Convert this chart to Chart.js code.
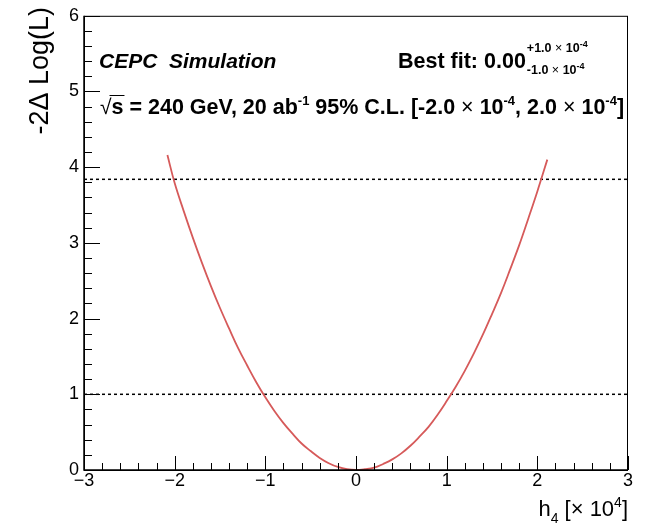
<!DOCTYPE html>
<html lang="en">
<head>
    <meta charset="UTF-8">
    <title>CEPC h4 likelihood scan</title>
    <script src="https://cdn.jsdelivr.net/npm/chart.js"></script>
    <style>
        body { margin: 0; background: #fff; }
        #wrap { width: 650px; height: 525px; }
    </style>
</head>
<body>
    <div id="wrap"><canvas id="scan" width="650" height="525"></canvas></div>

    <script>
        // h4 values [x 10^4] and -2 delta log L
        const h4Values = [-2.08, -2.0, -1.9, -1.8, -1.7, -1.6, -1.5, -1.4, -1.3, -1.2, -1.1,
                          -1.0, -0.9, -0.8, -0.7, -0.6, -0.5, -0.4, -0.3, -0.2, -0.1, 0.0,
                          0.1, 0.2, 0.3, 0.4, 0.5, 0.6, 0.7, 0.8, 0.9, 1.0, 1.1, 1.2, 1.3,
                          1.4, 1.5, 1.6, 1.7, 1.8, 1.9, 2.0, 2.11];
        const nllValues = [4.16, 3.79, 3.42, 3.07, 2.74, 2.43, 2.14, 1.87, 1.61, 1.38, 1.16,
                           0.96, 0.78, 0.62, 0.48, 0.35, 0.25, 0.16, 0.09, 0.04, 0.01, 0.00,
                           0.01, 0.03, 0.08, 0.14, 0.22, 0.32, 0.44, 0.57, 0.73, 0.91, 1.10,
                           1.31, 1.54, 1.79, 2.06, 2.34, 2.65, 2.97, 3.32, 3.68, 4.10];
        const clLevels = [1.0, 3.84];
        const xRange = [-3, 3];
        const yRange = [0, 6];

        const FONT = '"Liberation Sans", Arial, Helvetica, sans-serif';

        const curve = h4Values.map((x, i) => ({ x: x, y: nllValues[i] }));
        const clSets = clLevels.map(lv => ({
            data: [{ x: xRange[0], y: lv }, { x: xRange[1], y: lv }],
            borderColor: '#000',
            borderWidth: 1.5,
            borderDash: [3, 3],
            pointRadius: 0,
            tension: 0
        }));

        // draws a list of text pieces one after another
        function runs(ctx, x, y, parts, align) {
            let w = 0;
            parts.forEach(p => {
                ctx.font = (p.f || 'bold') + ' ' + p.s + 'px ' + FONT;
                p.w = ctx.measureText(p.t).width;
                w += p.w;
            });
            let cx = align === 'right' ? x - w : x;
            parts.forEach(p => {
                ctx.font = (p.f || 'bold') + ' ' + p.s + 'px ' + FONT;
                ctx.fillText(p.t, cx, y + (p.dy || 0));
                p.x = cx;
                cx += p.w;
            });
            return parts;
        }

        const rootStyle = {
            id: 'rootStyle',
            afterDraw(chart) {
                const ctx = chart.ctx;
                const a = chart.chartArea;
                const xs = chart.scales.x, ys = chart.scales.y;
                ctx.save();
                ctx.strokeStyle = '#000';
                ctx.fillStyle = '#000';

                // frame
                ctx.lineWidth = 1;
                ctx.strokeRect(a.left + 0.5, a.top + 0.5, a.right - a.left - 1, a.bottom - a.top);
                ctx.lineWidth = 1.5;
                ctx.beginPath();
                ctx.moveTo(a.left, a.top);
                ctx.lineTo(a.left, a.bottom);
                ctx.lineTo(a.right, a.bottom);
                ctx.stroke();

                // ticks pointing inwards, 5 divisions per unit
                ctx.lineWidth = 1;
                ctx.beginPath();
                for (let i = xRange[0] * 5; i <= xRange[1] * 5; i++) {
                    const px = Math.round(xs.getPixelForValue(i / 5)) + 0.5;
                    const len = i % 5 === 0 ? 14 : 7;
                    ctx.moveTo(px, a.bottom);
                    ctx.lineTo(px, a.bottom - len);
                }
                for (let i = yRange[0] * 5; i <= yRange[1] * 5; i++) {
                    const py = Math.round(ys.getPixelForValue(i / 5)) + 0.5;
                    const len = i % 5 === 0 ? 16 : 8;
                    ctx.moveTo(a.left, py);
                    ctx.lineTo(a.left + len, py);
                }
                ctx.stroke();

                ctx.textBaseline = 'alphabetic';
                ctx.textAlign = 'left';

                // axis titles
                runs(ctx, a.right, 516, [
                    { t: 'h', s: 22, f: 'normal' },
                    { t: '4', s: 14, f: 'normal', dy: 7 },
                    { t: ' [\u00d7 10', s: 22, f: 'normal' },
                    { t: '4', s: 14, f: 'normal', dy: -9 },
                    { t: ']', s: 22, f: 'normal' }
                ], 'right');

                ctx.save();
                ctx.translate(48, 7);
                ctx.rotate(-Math.PI / 2);
                ctx.font = 'normal 27px ' + FONT;
                ctx.textAlign = 'right';
                ctx.fillText('-2\u0394 Log(L)', 0, 0);
                ctx.restore();

                // labels inside the frame
                ctx.textAlign = 'left';
                runs(ctx, 99, 68, [{ t: 'CEPC  Simulation', s: 21, f: 'italic bold' }]);

                const bf = runs(ctx, 398, 68, [{ t: 'Best fit: 0.00', s: 21.5 }]);
                const sx = bf[0].x + bf[0].w + 1;
                runs(ctx, sx, 52, [
                    { t: '+1.0 ', s: 12.5 },
                    { t: '\u00d7', s: 12.5, f: 'normal' },
                    { t: ' 10', s: 12.5 },
                    { t: '-4', s: 9, dy: -5 }
                ]);
                runs(ctx, sx, 74, [
                    { t: '-1.0 ', s: 12.5 },
                    { t: '\u00d7', s: 12.5, f: 'normal' },
                    { t: ' 10', s: 12.5 },
                    { t: '-4', s: 9, dy: -5 }
                ]);

                const ln = runs(ctx, 100, 114, [
                    { t: '\u221a', s: 21, f: 'normal' },
                    { t: 's = 240 GeV, 20 ab', s: 21.5 },
                    { t: '-1', s: 13, dy: -9 },
                    { t: ' 95% C.L. [-2.0 ', s: 21.5 },
                    { t: '\u00d7', s: 21.5, f: 'normal' },
                    { t: ' 10', s: 21.5 },
                    { t: '-4', s: 13, dy: -9 },
                    { t: ', 2.0 ', s: 21.5 },
                    { t: '\u00d7', s: 21.5, f: 'normal' },
                    { t: ' 10', s: 21.5 },
                    { t: '-4', s: 13, dy: -9 },
                    { t: ']', s: 21.5 }
                ]);
                // bar over the "s" of the root sign
                ctx.font = 'bold 21.5px ' + FONT;
                const sw = ctx.measureText('s').width;
                ctx.lineWidth = 1;
                ctx.beginPath();
                ctx.moveTo(ln[0].x + ln[0].w - 2, 95.5);
                ctx.lineTo(ln[1].x + sw + 1, 95.5);
                ctx.stroke();

                ctx.restore();
            }
        };

        const ctx = document.getElementById('scan').getContext('2d');
        const chart = new Chart(ctx, {
            type: 'line',
            data: {
                datasets: [{
                    data: curve,
                    borderColor: '#d65a5a',
                    borderWidth: 1.8,
                    pointRadius: 0,
                    tension: 0.4
                }].concat(clSets)
            },
            options: {
                responsive: false,
                animation: false,
                layout: { padding: { top: 11, right: 22, left: 0, bottom: 0 } },
                plugins: { legend: { display: false }, tooltip: { enabled: false } },
                scales: {
                    x: {
                        type: 'linear',
                        min: xRange[0],
                        max: xRange[1],
                        grid: { display: false, drawTicks: false },
                        border: { display: false },
                        ticks: {
                            stepSize: 1,
                            padding: 0,
                            color: '#000',
                            font: { family: FONT, size: 18 },
                            maxRotation: 0,
                            callback: v => String(v).replace('-', '\u2212')
                        },
                        afterFit: s => { s.height = 55; }
                    },
                    y: {
                        min: yRange[0],
                        max: yRange[1],
                        grid: { display: false, drawTicks: false },
                        border: { display: false },
                        ticks: {
                            stepSize: 1,
                            padding: 5,
                            color: '#000',
                            font: { family: FONT, size: 18 }
                        },
                        afterFit: s => { s.width = 84; }
                    }
                }
            },
            plugins: [rootStyle]
        });
    </script>
</body>
</html>
